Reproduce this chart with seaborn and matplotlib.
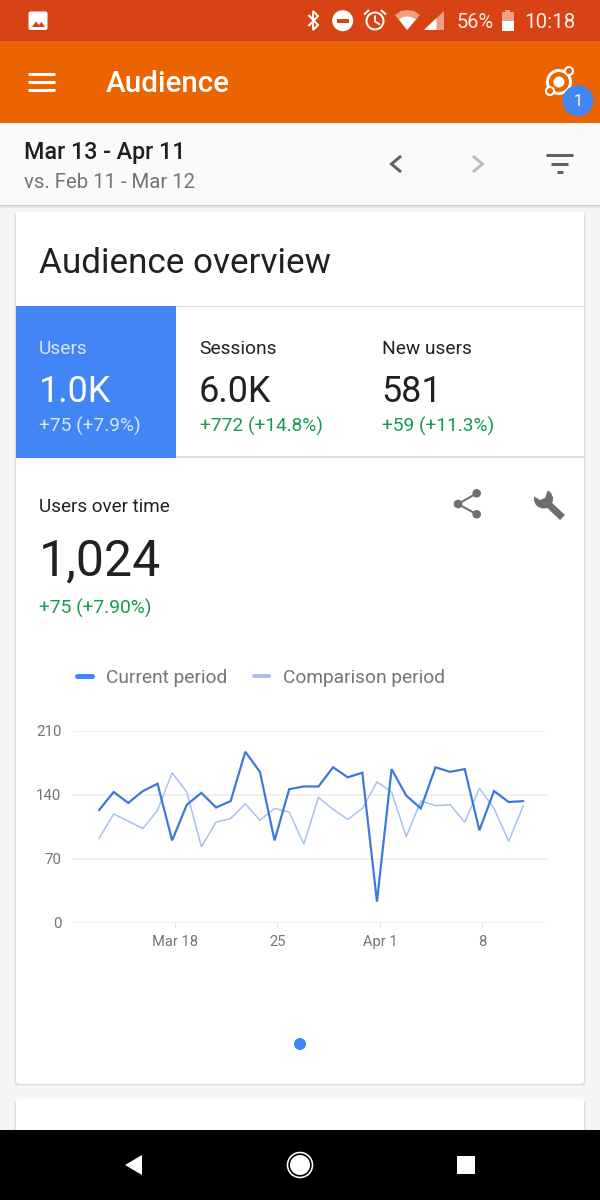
import matplotlib
matplotlib.use("Agg")
import matplotlib.pyplot as plt
from matplotlib.patches import Rectangle, Circle, Polygon, FancyBboxPatch
from matplotlib.lines import Line2D
import pandas as pd
import seaborn as sns

# ---------- data ----------
current_period = [123, 143, 131, 144, 152, 90, 129, 142, 126, 133, 187, 165, 90, 146, 149,
                  149, 170, 159, 164, 23, 168, 139, 125, 170, 165, 168, 101, 144, 132, 133]
comparison_period = [92, 119, 111, 103, 123, 164, 143, 83, 110, 114, 130, 112, 125, 121, 86,
                     137, 124, 113, 125, 154, 143, 94, 133, 128, 129, 110, 147, 125, 89, 128]
series_names = ["Current period", "Comparison period"]
y_ticks = [0, 70, 140, 210]
x_tick_days = [5.2, 12.2, 19.2, 26.2]
x_tick_labels = ["Mar 18", "25", "Apr 1", "8"]
metric_names = ["Users", "Sessions", "New users"]
metric_values = ["1.0K", "6.0K", "581"]
metric_changes = ["+75 (+7.9%)", "+772 (+14.8%)", "+59 (+11.3%)"]

# ---------- colours ----------
STATUS = "#D84315"; APPBAR = "#EC6400"; BLUE = "#4285F4"; GREEN = "#159A52"
DARK = "#212121"; GREY = "#757575"; ICON = "#6E6E6E"
LINE_CUR = "#3B78DE"; LINE_CMP = "#A6C0EF"; GRID = "#EEEEEE"

sns.set_theme(style="white")
plt.rcParams["font.family"] = ["Roboto", "DejaVu Sans"]

fig = plt.figure(figsize=(6, 12), dpi=100, facecolor="#F5F5F5")
ui = fig.add_axes([0, 0, 1, 1], zorder=0)
ui.set_xlim(0, 600); ui.set_ylim(1200, 0); ui.axis("off")

PX = 0.72
def T(x, y, s, px, c=DARK, ha="left", w="normal", **k):
    return ui.text(x, y, s, fontsize=px * PX, color=c, ha=ha, va="baseline", fontweight=w, zorder=6, **k)
def R(x0, y0, x1, y1, c, z=1, a=1):
    ui.add_patch(Rectangle((x0, y0), x1 - x0, y1 - y0, fc=c, ec="none", zorder=z, alpha=a))
def L(xs, ys, c, lw, z=5, cap="butt", join="miter"):
    ui.plot(xs, ys, color=c, lw=lw * PX, solid_capstyle=cap, solid_joinstyle=join, zorder=z)
def C(x, y, r, fc="white", ec="none", lw=0, z=5):
    ui.add_patch(Circle((x, y), r, fc=fc, ec=ec, lw=lw * PX, zorder=z))
def P(pts, c, z=5):
    ui.add_patch(Polygon(pts, closed=True, fc=c, ec="none", zorder=z))

# ---------- bars ----------
R(0, 0, 600, 41, STATUS); R(0, 41, 600, 122.5, APPBAR)
R(0, 122.5, 600, 205, "#FAFAFA")
for i, a in enumerate([0.35, 0.18, 0.08]):
    R(0, 205 + i, 600, 206 + i, "#808080", z=1, a=a)

# status bar
ui.add_patch(FancyBboxPatch((29.5, 12.5), 17, 16.5, boxstyle="round,pad=1,rounding_size=2", fc="white", ec="none", zorder=5))
P([(32, 27), (36, 21.5), (39, 25), (41.5, 22), (45, 27)], STATUS, z=6)
L([308.5, 318, 313, 313, 318, 308.5], [15, 25, 30, 11, 16, 26], "white", 2, join="miter")
C(342.7, 20.7, 10.5); R(337, 18.8, 348.5, 22.6, STATUS, z=6)
C(375, 21, 8.5, fc="none", ec="white", lw=2)
L([375, 375, 380], [15.5, 21.5, 24.5], "white", 1.8)
L([364, 369], [14.5, 10], "white", 2); L([381, 386], [10, 14.5], "white", 2)
P([(395, 15), (401, 11), (407, 10), (414, 11), (420, 15), (407, 30)], "#EE9F84")
P([(399, 19.5), (403, 17), (407, 16.5), (411, 17), (416, 19.5), (407, 30)], "white", z=6)
P([(424, 30), (444, 11), (444, 30)], "#EE9F84")
P([(424, 30), (436.5, 18), (436.5, 30)], "white", z=6)
R(501.5, 12, 513.5, 31, "#EE9F84"); R(505, 9.5, 510, 12, "#EE9F84")
R(501.5, 20.5, 513.5, 31, "white", z=6)
T(457, 28, "56%", 20, "#FBEDE8"); T(576, 28, "10:18", 20.5, "#FBEDE8", ha="right")

# app bar
for y in (74, 82, 90):
    L([27.5, 54.7], [y, y], "white", 3)
T(105.5, 92, "Audience", 29.6, "white", w="medium")
C(559, 82, 11.5, fc="none", ec="white", lw=3)
C(559, 82, 5.5)
C(569, 71, 4, fc=APPBAR, ec="white", lw=2, z=6)
C(550, 91, 4, fc=APPBAR, ec="white", lw=2, z=6)
C(578, 100.7, 15.5, fc=BLUE, z=7)
ui.text(578, 106.5, "1", fontsize=16 * PX, color="white", ha="center", va="baseline", zorder=8)

# date bar
T(23.5, 159, "Mar 13 - Apr 11", 23.2, "#1F1F1F", w="medium")
T(23.5, 187.5, "vs. Feb 11 - Mar 12", 20.4, GREY)
L([401, 391.5, 401], [156, 164, 172], "#616161", 3)
L([473, 482.5, 473], [156, 164, 172], "#BDBDBD", 3)
L([546, 573], [155, 155], "#616161", 3)
L([551, 567.5], [164, 164], "#616161", 3)
L([557, 562.5], [171.5, 171.5], "#616161", 3)

# ---------- cards ----------
for x0, y0, x1, y1 in [(16, 212, 584, 1084), (16, 1099, 584, 1135)]:
    for d, a in [(3, 0.04), (2, 0.06), (1, 0.09)]:
        ui.add_patch(FancyBboxPatch((x0 - d * 0.6 + 2, y0 + d * 0.6 + 2), x1 - x0 + d * 1.2 - 4, y1 - y0 - 4,
                                    boxstyle="round,pad=2,rounding_size=3", fc="#555555", ec="none", alpha=a, zorder=1))
    ui.add_patch(FancyBboxPatch((x0 + 2, y0 + 2), x1 - x0 - 4, y1 - y0 - 4,
                                boxstyle="round,pad=2,rounding_size=3", fc="white", ec="none", zorder=2))

T(39, 273, "Audience overview", 35, DARK)
R(16, 305.5, 584, 307, "#DDDDDD", z=3)
R(16, 456, 584, 457.5, "#DDDDDD", z=3)
R(16, 306, 176, 457.5, BLUE, z=4)
for x, name, val, chg, i in zip([39, 199.5, 381.5], metric_names, metric_values, metric_changes, range(3)):
    T(x, 354, name, 19.2, "#D9E6FD" if i == 0 else DARK)
    T(x - 0.5, 402, val, 36, "white" if i == 0 else DARK)
    T(x, 431.5, chg, 19.2, "#D9E6FD" if i == 0 else GREEN)

T(39, 512, "Users over time", 18.9, DARK)
T(39, 575, "1,024", 50, DARK)
T(39, 613.5, "+75 (+7.90%)", 19.2, GREEN)

# share icon
L([476.7, 458, 476.7], [493.3, 504, 514.3], ICON, 2, join="round")
for x, y in [(476.7, 493.3), (458, 504), (476.7, 514.3)]:
    C(x, y, 4.3, fc=ICON)
# wrench icon
L([546, 562.5], [502, 517.5], ICON, 7)
C(543.5, 499, 9.5, fc=ICON)
P([(536, 487), (549, 487), (545, 498), (540, 500), (532, 495)], "white", z=6)

# pager dot, nav bar
C(300, 1044, 6, fc=BLUE)
R(0, 1130, 600, 1200, "black", z=5)
P([(125, 1165), (142, 1155), (142, 1175)], "white", z=6)
C(300, 1165, 12.5, fc="black", ec="white", lw=1.6, z=6)
C(300, 1165, 10, fc="white", z=7)
R(457, 1156, 475, 1174, "white", z=6)

# ---------- chart ----------
data = pd.DataFrame({
    "day": list(range(len(current_period))) * 2,
    "users": current_period + comparison_period,
    "period": [series_names[0]] * len(current_period) + [series_names[1]] * len(comparison_period),
})
left, right, top, bottom = 72.7, 546.7, 730.7, 922.7
ax = fig.add_axes([left / 600, 1 - bottom / 1200, (right - left) / 600, (bottom - top) / 1200], zorder=3)
ax.patch.set_alpha(0)
sns.lineplot(data=data, x="day", y="users", hue="period", hue_order=series_names[::-1],
             palette={series_names[0]: LINE_CUR, series_names[1]: LINE_CMP},
             size="period", sizes={series_names[0]: 2.2 * PX, series_names[1]: 1.5 * PX},
             ax=ax, legend=False, zorder=3, solid_joinstyle="miter", clip_on=False)
day_px = 14.63
ax.set_xlim(-(99 - left) / day_px, (right - 99) / day_px)
ax.set_ylim(0, 210)
ax.set_yticks(y_ticks); ax.set_xticks(x_tick_days); ax.set_xticklabels(x_tick_labels)
ax.set_xlabel(""); ax.set_ylabel("")
for s in ax.spines.values():
    s.set_visible(False)
ax.yaxis.grid(True, color=GRID, lw=1.6 * PX, zorder=0)
ax.xaxis.grid(False); ax.set_axisbelow(True)
ax.tick_params(axis="y", length=0, pad=8, labelsize=15 * PX, labelcolor=GREY)
ax.tick_params(axis="x", length=3, width=1 * PX, color="#E0E0E0", pad=6, labelsize=14.7 * PX, labelcolor=GREY, bottom=True)

# legend
FS = 19.2
handles = [Line2D([], [], color=BLUE, lw=5 * PX, solid_capstyle="round"),
           Line2D([], [], color=LINE_CMP, lw=4 * PX, solid_capstyle="round")]
fig.legend(handles, series_names, loc="lower left", bbox_to_anchor=(76.5 / 600, 1 - 687 / 1200),
           ncol=2, frameon=False, fontsize=FS * PX, labelcolor=GREY,
           handlelength=15 / FS, handletextpad=14.5 / FS, columnspacing=26.5 / FS,
           borderpad=0, borderaxespad=0)

fig.savefig("out.png", dpi=100, facecolor=fig.get_facecolor())
